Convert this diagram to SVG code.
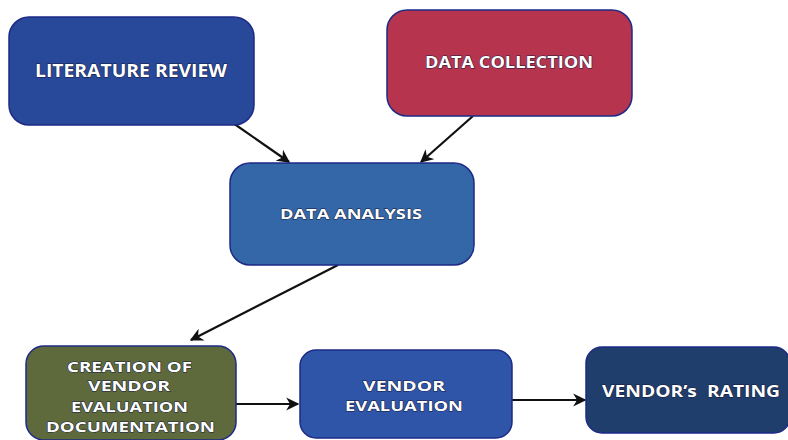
<svg xmlns="http://www.w3.org/2000/svg" width="788" height="440" viewBox="0 0 788 440">
  <style>
    .box { stroke: #1d2a86; stroke-width: 1.5; }
    .lbl { font-family: "Open Sans", "Liberation Sans", sans-serif; font-weight: bold; fill: #ffffff; stroke: #141a3c; stroke-width: 0.9; paint-order: stroke; }
    .edge { stroke: #111111; stroke-width: 2.2; fill: none; marker-end: url(#arrow); }
  </style>
  <defs>
    <marker id="arrow" viewBox="0 0 10 10" refX="9" refY="5" markerWidth="6" markerHeight="6" orient="auto" markerUnits="strokeWidth">
      <path d="M0,0 L10,5 L0,10 L3,5 Z" fill="#111111"/>
    </marker>
  </defs>
  <rect width="788" height="440" fill="#ffffff"/>

  <g id="connectors">
    <line class="edge" x1="233" y1="123" x2="289" y2="162"/>
    <line class="edge" x1="473" y1="116" x2="421" y2="162"/>
    <line class="edge" x1="338" y1="265" x2="191" y2="340"/>
    <line class="edge" x1="236" y1="404" x2="298" y2="404"/>
    <line class="edge" x1="512" y1="400" x2="585" y2="400"/>
  </g>

  <g id="literature-review">
    <rect class="box" x="9" y="17" width="245" height="108" rx="20" fill="#28489a"/>
    <text class="lbl" x="35" y="77" font-size="17" textLength="192" lengthAdjust="spacingAndGlyphs">LITERATURE REVIEW</text>
  </g>

  <g id="data-collection">
    <rect class="box" x="387" y="10" width="245" height="106" rx="20" fill="#b7344f"/>
    <text class="lbl" x="425" y="68" font-size="16.5" textLength="168" lengthAdjust="spacingAndGlyphs">DATA COLLECTION</text>
  </g>

  <g id="data-analysis">
    <rect class="box" x="230" y="163" width="244" height="102" rx="20" fill="#3467a8"/>
    <text class="lbl" x="280" y="219" font-size="14.5" textLength="142" lengthAdjust="spacingAndGlyphs">DATA ANALYSIS</text>
  </g>

  <g id="creation-documentation">
    <rect class="box" x="26" y="346" width="210" height="94" rx="18" fill="#5f6a3c"/>
    <text class="lbl" x="67" y="372" font-size="15" textLength="125" lengthAdjust="spacingAndGlyphs">CREATION OF</text>
    <text class="lbl" x="88" y="391" font-size="15" textLength="82" lengthAdjust="spacingAndGlyphs">VENDOR</text>
    <text class="lbl" x="71" y="412" font-size="15" textLength="117" lengthAdjust="spacingAndGlyphs">EVALUATION</text>
    <text class="lbl" x="46" y="432" font-size="15" textLength="169" lengthAdjust="spacingAndGlyphs">DOCUMENTATION</text>
  </g>

  <g id="vendor-evaluation">
    <rect class="box" x="300" y="350" width="212" height="88" rx="16" fill="#2f55a8"/>
    <text class="lbl" x="363" y="391" font-size="15" textLength="82" lengthAdjust="spacingAndGlyphs">VENDOR</text>
    <text class="lbl" x="345" y="411" font-size="15" textLength="118" lengthAdjust="spacingAndGlyphs">EVALUATION</text>
  </g>

  <g id="vendor-rating">
    <rect class="box" x="586" y="347" width="204" height="86" rx="16" fill="#203e6c"/>
    <text class="lbl" x="602" y="397" font-size="16" textLength="178" lengthAdjust="spacingAndGlyphs" xml:space="preserve">VENDOR’s  RATING</text>
  </g>
</svg>
